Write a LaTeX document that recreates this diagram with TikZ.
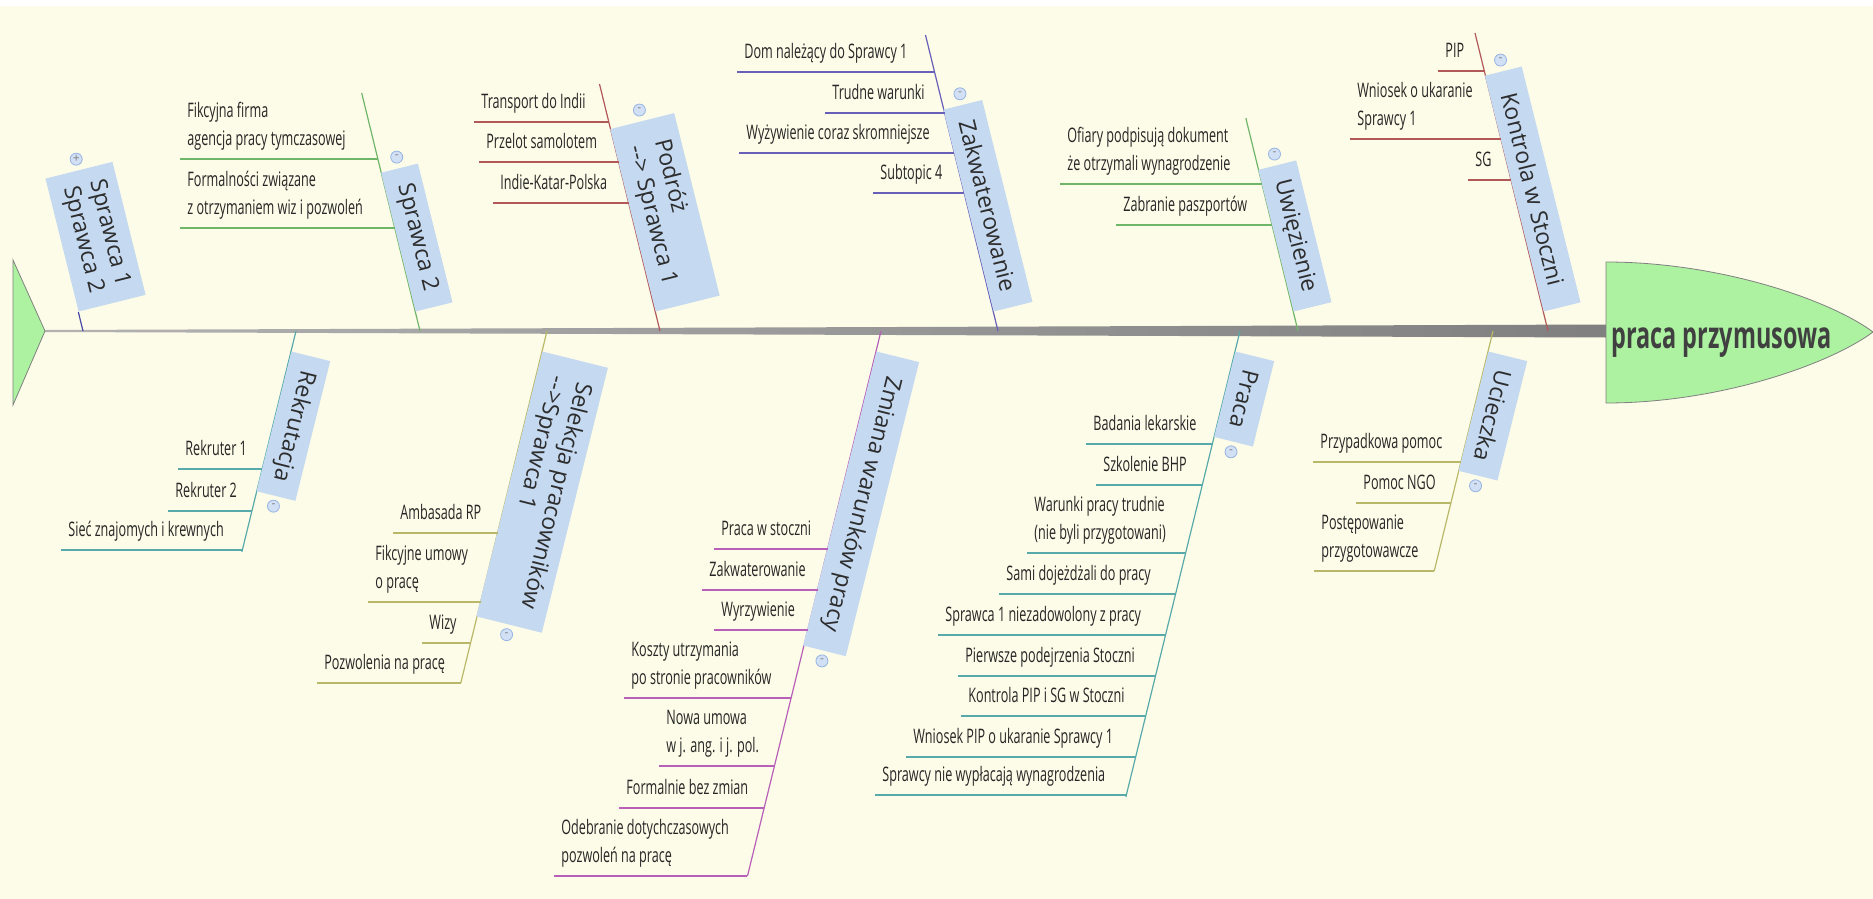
\documentclass[tikz,border=0pt]{standalone}
\usepackage{fontspec}
\setmainfont{Open Sans}
\newfontfamily\narrowfont[FakeStretch=0.63]{Open Sans}
\usepackage{tikz}
\usetikzlibrary{calc, positioning}
\definecolor{paper}{RGB}{253,252,232}
\definecolor{topicblue}{RGB}{197,217,241}
\definecolor{headgreen}{RGB}{172,242,160}
\definecolor{spinegray}{RGB}{128,128,128}
\definecolor{inkgray}{RGB}{64,64,64}
\definecolor{togglefill}{RGB}{210,224,246}
\definecolor{toggledraw}{RGB}{150,180,226}
\definecolor{boneblue}{RGB}{72,72,168}
\definecolor{bonegreen}{RGB}{112,182,104}
\definecolor{bonered}{RGB}{178,88,88}
\definecolor{bonepurple}{RGB}{104,96,184}
\definecolor{boneteal}{RGB}{88,170,170}
\definecolor{boneolive}{RGB}{184,184,104}
\definecolor{bonemagenta}{RGB}{184,96,184}
\tikzstyle{topic} = [rectangle, fill=topicblue, inner sep=0pt, align=left, text=inkgray!70!black,
                     font=\fontsize{11.5}{13.5}\selectfont]
\tikzstyle{subtopic} = [anchor=south west, inner xsep=3.5pt, inner ysep=6.5pt, text depth=0pt,
                        align=left, text=black!85, font=\narrowfont\fontsize{10}{14}\selectfont]
\tikzstyle{toggle} = [circle, draw=toggledraw, fill=togglefill, minimum size=6pt, inner sep=0pt,
                      text=black!50, font=\fontsize{6}{6}\selectfont]
\tikzstyle{bone} = [line width=0.6pt]
\tikzstyle{twig} = [line width=0.9pt]

\begin{document}
\begin{tikzpicture}[x=0.5pt, y=-0.5pt]
    \useasboundingbox (0,0) rectangle (1873,899);
    % Background
    \fill[white] (0,0) rectangle (1873,899);
    \fill[paper] (0,6) rectangle (1873,899);

    % Spine, tail and head
    \coordinate (tail) at (45,331);
    \coordinate (neck) at (1606,331);
    \shade[left color=black!30, right color=black!50]
        ([yshift=0.5pt]tail) -- ([yshift=3.25pt]neck) -- ([yshift=-3.25pt]neck) -- ([yshift=-0.5pt]tail) -- cycle;
    \draw[spinegray, fill=headgreen] (13,260) -- (tail) -- (13,405) -- cycle;
    \draw[spinegray, fill=headgreen] (1606,262) .. controls (1720,262) and (1830,300) .. (1873,332)
        .. controls (1830,364) and (1720,403) .. (1606,403) -- cycle;
    \node[anchor=base west, inner sep=0pt, text=inkgray, font=\narrowfont\fontsize{18.6}{20}\selectfont\bfseries]
        (effect) at (1611,348) {praca przymusowa};

    % Sprawca 1 / Sprawca 2 (collapsed)
    \coordinate (spr12-s) at (83,331);
    \node[topic, rotate=-76, anchor=south east, minimum width=68.5pt, minimum height=34.5pt]
        (spr12) at ({83-0.245*19},312) {Sprawca 1\\Sprawca 2};
    \draw[bone, boneblue] (spr12-s) -- (spr12.south east);
    \node[toggle] at ($(spr12.west)!-5.5pt!(spr12.east)$) {+};

    % Sprawca 2
    \coordinate (spr2-s) at (420,331);
    \coordinate (spr2-e) at ({420-0.245*238},93);
    \draw[bone, bonegreen] (spr2-s) -- (spr2-e);
    \node[topic, rotate=-76, anchor=south east, minimum width=71.5pt, minimum height=19pt]
        (spr2) at ({420-0.245*19},312) {Sprawca 2};
    \node[toggle] at ($(spr2.west)!-5.5pt!(spr2.east)$) {-};
    \foreach \x/\y/\txt [count=\i] in {180/159/{Fikcyjna firma\\agencja pracy tymczasowej},
                                       180/228/{Formalności związane\\z otrzymaniem wiz i pozwoleń}} {
        \node[subtopic] (spr2\i) at (\x,\y) {\txt};
        \coordinate (spr2\i-b) at ({420-0.245*(331-\y)},\y);
        \draw[twig, bonegreen] (spr2\i.south west) -- (spr2\i-b);
    }

    % Podroz
    \coordinate (pod-s) at (660,331);
    \coordinate (pod-e) at ({660-0.245*247},84);
    \draw[bone, bonered] (pod-s) -- (pod-e);
    \node[topic, rotate=-76, anchor=south east, minimum width=94pt, minimum height=33pt]
        (pod) at ({660-0.245*19},312) {Podróż\\-{}-> Sprawca 1};
    \node[toggle] at ($(pod.west)!-5.5pt!(pod.east)$) {-};
    \foreach \x/\y/\txt [count=\i] in {474/122/Transport do Indii, 479/162/Przelot samolotem,
                                       493/203/Indie-Katar-Polska} {
        \node[subtopic] (pod\i) at (\x,\y) {\txt};
        \coordinate (pod\i-b) at ({660-0.245*(331-\y)},\y);
        \draw[twig, bonered] (pod\i.south west) -- (pod\i-b);
    }

    % Zakwaterowanie
    \coordinate (zak-s) at (998,331);
    \coordinate (zak-e) at ({998-0.245*296},35);
    \draw[bone, bonepurple] (zak-s) -- (zak-e);
    \node[topic, rotate=-76, anchor=south east, minimum width=104pt, minimum height=20pt]
        (zak) at ({998-0.245*19},312) {Zakwaterowanie};
    \node[toggle] at ($(zak.west)!-5.5pt!(zak.east)$) {-};
    \foreach \x/\y/\txt [count=\i] in {737/72/Dom należący do Sprawcy 1, 825/113/Trudne warunki,
                                       739/153/Wyżywienie coraz skromniejsze, 873/193/Subtopic 4} {
        \node[subtopic] (zak\i) at (\x,\y) {\txt};
        \coordinate (zak\i-b) at ({998-0.245*(331-\y)},\y);
        \draw[twig, bonepurple] (zak\i.south west) -- (zak\i-b);
    }

    % Uwiezienie
    \coordinate (uwi-s) at (1298,331);
    \coordinate (uwi-e) at ({1298-0.245*213},118);
    \draw[bone, bonegreen] (uwi-s) -- (uwi-e);
    \node[topic, rotate=-76, anchor=south east, minimum width=73pt, minimum height=19.5pt]
        (uwi) at ({1298-0.245*19},312) {Uwięzienie};
    \node[toggle] at ($(uwi.west)!-5.5pt!(uwi.east)$) {-};
    \foreach \x/\y/\txt [count=\i] in {1060/184/{Ofiary podpisują dokument\\że otrzymali wynagrodzenie},
                                       1116/225/Zabranie paszportów} {
        \node[subtopic] (uwi\i) at (\x,\y) {\txt};
        \coordinate (uwi\i-b) at ({1298-0.245*(331-\y)},\y);
        \draw[twig, bonegreen] (uwi\i.south west) -- (uwi\i-b);
    }

    % Kontrola w Stoczni
    \coordinate (kon-s) at (1548,331);
    \coordinate (kon-e) at ({1548-0.245*298},33);
    \draw[bone, bonered] (kon-s) -- (kon-e);
    \node[topic, rotate=-76, anchor=south east, minimum width=121.5pt, minimum height=19pt]
        (kon) at ({1548-0.245*19},312) {Kontrola w Stoczni};
    \node[toggle] at ($(kon.west)!-5.5pt!(kon.east)$) {-};
    \foreach \x/\y/\txt [count=\i] in {1438/71/PIP, 1350/139/{Wniosek o ukaranie\\Sprawcy 1}, 1468/180/SG} {
        \node[subtopic] (kon\i) at (\x,\y) {\txt};
        \coordinate (kon\i-b) at ({1548-0.245*(331-\y)},\y);
        \draw[twig, bonered] (kon\i.south west) -- (kon\i-b);
    }

    % Rekrutacja
    \coordinate (rek-s) at (296,331);
    \coordinate (rek-e) at ({296-0.245*221},552);
    \draw[bone, boneteal] (rek-s) -- (rek-e);
    \node[topic, rotate=-104, anchor=south west, minimum width=72pt, minimum height=20pt]
        (rek) at ({296-0.245*20},351) {Rekrutacja};
    \node[toggle] at ($(rek.east)!-5pt!(rek.west)$) {-};
    \foreach \x/\y/\txt [count=\i] in {178/469/Rekruter 1, 168/511/Rekruter 2, 61/550/Sieć znajomych i krewnych} {
        \node[subtopic] (rek\i) at (\x,\y) {\txt};
        \coordinate (rek\i-b) at ({296-0.245*(\y-331)},\y);
        \draw[twig, boneteal] (rek\i.south west) -- (rek\i-b);
    }

    % Selekcja pracownikow
    \coordinate (sel-s) at (547,331);
    \coordinate (sel-e) at ({547-0.245*352},683);
    \draw[bone, boneolive] (sel-s) -- (sel-e);
    \node[topic, rotate=-104, anchor=south west, minimum width=136.5pt, minimum height=33.75pt]
        (sel) at ({547-0.245*20},351) {Selekcja pracowników\\-{}->Sprawca 1};
    \node[toggle] at ($(sel.east)!-5pt!(sel.west)$) {-};
    \foreach \x/\y/\txt [count=\i] in {393/533/Ambasada RP, 368/602/{Fikcyjne umowy\\o pracę},
                                       422/643/Wizy, 317/683/Pozwolenia na pracę} {
        \node[subtopic] (sel\i) at (\x,\y) {\txt};
        \coordinate (sel\i-b) at ({547-0.245*(\y-331)},\y);
        \draw[twig, boneolive] (sel\i.south west) -- (sel\i-b);
    }

    % Zmiana warunkow pracy
    \coordinate (zmi-s) at (881,331);
    \coordinate (zmi-e) at ({881-0.245*545},876);
    \draw[bone, bonemagenta] (zmi-s) -- (zmi-e);
    \node[topic, rotate=-104, anchor=south west, minimum width=151.5pt, minimum height=22pt]
        (zmi) at ({881-0.245*20},351) {Zmiana warunków pracy};
    \node[toggle] at ($(zmi.east)!-5pt!(zmi.west)$) {-};
    \foreach \x/\y/\txt [count=\i] in {714/549/Praca w stoczni, 702/590/Zakwaterowanie, 714/630/Wyrzywienie,
                                       624/698/{Koszty utrzymania\\po stronie pracowników},
                                       659/766/{Nowa umowa\\w j. ang. i j. pol.},
                                       619/808/Formalnie bez zmian,
                                       554/876/{Odebranie dotychczasowych\\pozwoleń na pracę}} {
        \node[subtopic] (zmi\i) at (\x,\y) {\txt};
        \coordinate (zmi\i-b) at ({881-0.245*(\y-331)},\y);
        \draw[twig, bonemagenta] (zmi\i.south west) -- (zmi\i-b);
    }

    % Praca
    \coordinate (pra-s) at (1240,331);
    \coordinate (pra-e) at ({1240-0.245*466},797);
    \draw[bone, boneteal] (pra-s) -- (pra-e);
    \node[topic, rotate=-104, anchor=south west, minimum width=44pt, minimum height=20pt]
        (pra) at ({1240-0.245*20},351) {Praca};
    \node[toggle] at ($(pra.east)!-5pt!(pra.west)$) {-};
    \foreach \x/\y/\txt [count=\i] in {1086/444/Badania lekarskie, 1096/485/Szkolenie BHP,
                                       1027/553/{Warunki pracy trudnie\\(nie byli przygotowani)},
                                       999/594/Sami dojeżdżali do pracy,
                                       938/635/Sprawca 1 niezadowolony z pracy,
                                       958/676/Pierwsze podejrzenia Stoczni,
                                       961/716/Kontrola PIP i SG w Stoczni,
                                       906/757/Wniosek PIP o ukaranie Sprawcy 1,
                                       875/795/Sprawcy nie wypłacają wynagrodzenia} {
        \node[subtopic] (pra\i) at (\x,\y) {\txt};
        \coordinate (pra\i-b) at ({1240-0.245*(\y-331)},\y);
        \draw[twig, boneteal] (pra\i.south west) -- (pra\i-b);
    }

    % Ucieczka
    \coordinate (ucz-s) at (1493,331);
    \coordinate (ucz-e) at ({1493-0.245*240},571);
    \draw[bone, boneolive] (ucz-s) -- (ucz-e);
    \node[topic, rotate=-104, anchor=south west, minimum width=61.5pt, minimum height=20pt]
        (ucz) at ({1493-0.245*20},351) {Ucieczka};
    \node[toggle] at ($(ucz.east)!-5pt!(ucz.west)$) {-};
    \foreach \x/\y/\txt [count=\i] in {1313/462/Przypadkowa pomoc, 1356/503/Pomoc NGO,
                                       1314/571/{Postępowanie\\przygotowawcze}} {
        \node[subtopic] (ucz\i) at (\x,\y) {\txt};
        \coordinate (ucz\i-b) at ({1493-0.245*(\y-331)},\y);
        \draw[twig, boneolive] (ucz\i.south west) -- (ucz\i-b);
    }
\end{tikzpicture}
\end{document}
